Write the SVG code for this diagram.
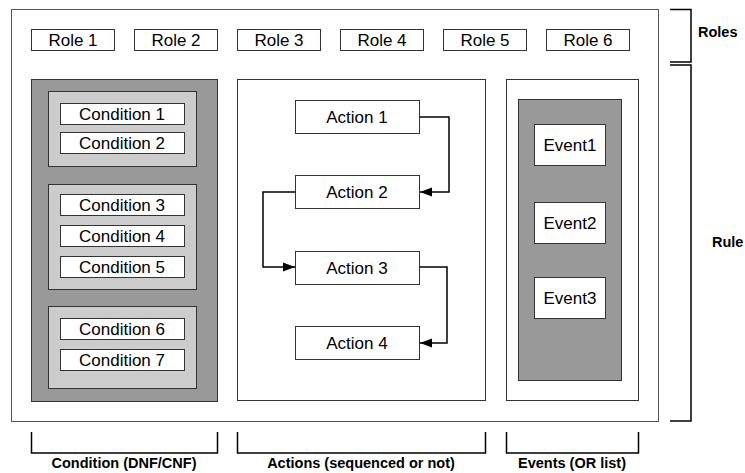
<svg xmlns="http://www.w3.org/2000/svg" width="745" height="473" viewBox="0 0 745 473">
<defs>
<style>
.box{fill:#fff;stroke:#333;stroke-width:1}
.dark{fill:#999;stroke:#333;stroke-width:1}
.light{fill:#ccc;stroke:#333;stroke-width:1}
.outer{fill:#fff;stroke:#555;stroke-width:1}
.t{font-family:"Liberation Sans",Arial,sans-serif;font-size:17px;fill:#000;text-anchor:middle}
.b{font-family:"Liberation Sans",Arial,sans-serif;font-size:14.5px;font-weight:bold;fill:#000;text-anchor:middle}
.s{text-anchor:start}
.br{fill:none;stroke:#000;stroke-width:1.5}
.conn{fill:none;stroke:#000;stroke-width:1.5}
</style>
<marker id="arr" viewBox="0 0 12 10" refX="12" refY="5" markerWidth="12" markerHeight="10" markerUnits="userSpaceOnUse" orient="auto">
<path d="M0,0.5 L12,5 L0,9.5 z" fill="#000"/>
</marker>
</defs>
<g id="rule-box"><rect class="outer" x="11.5" y="9.5" width="647" height="412"/></g>
<g id="role1"><rect class="box" x="31.5" y="29.5" width="83" height="21"/><text class="t" x="73" y="46">Role 1</text></g>
<g id="role2"><rect class="box" x="134.5" y="29.5" width="83" height="21"/><text class="t" x="176" y="46">Role 2</text></g>
<g id="role3"><rect class="box" x="237.5" y="29.5" width="83" height="21"/><text class="t" x="279" y="46">Role 3</text></g>
<g id="role4"><rect class="box" x="340.5" y="29.5" width="83" height="21"/><text class="t" x="382" y="46">Role 4</text></g>
<g id="role5"><rect class="box" x="443.5" y="29.5" width="83" height="21"/><text class="t" x="485" y="46">Role 5</text></g>
<g id="role6"><rect class="box" x="546.5" y="29.5" width="83" height="21"/><text class="t" x="588" y="46">Role 6</text></g>
<g id="conditions">
<rect class="dark" x="31.5" y="79.5" width="186" height="322"/>
<rect class="light" x="48.5" y="91.5" width="148" height="75"/>
<rect class="light" x="48.5" y="184.5" width="148" height="105"/>
<rect class="light" x="48.5" y="306.5" width="148" height="82"/>
</g>
<g id="cond1"><rect class="box" x="60.5" y="103.5" width="124" height="21"/><text class="t" x="122" y="120">Condition 1</text></g>
<g id="cond2"><rect class="box" x="60.5" y="132.5" width="124" height="21"/><text class="t" x="122" y="149">Condition 2</text></g>
<g id="cond3"><rect class="box" x="60.5" y="194.5" width="124" height="21"/><text class="t" x="122" y="211">Condition 3</text></g>
<g id="cond4"><rect class="box" x="60.5" y="225.5" width="124" height="21"/><text class="t" x="122" y="242">Condition 4</text></g>
<g id="cond5"><rect class="box" x="60.5" y="256.5" width="124" height="21"/><text class="t" x="122" y="273">Condition 5</text></g>
<g id="cond6"><rect class="box" x="60.5" y="318.5" width="124" height="21"/><text class="t" x="122" y="335">Condition 6</text></g>
<g id="cond7"><rect class="box" x="60.5" y="349.5" width="124" height="21"/><text class="t" x="122" y="366">Condition 7</text></g>
<g id="actions"><rect class="box" x="237.5" y="79.5" width="248" height="321"/></g>
<g id="action1"><rect class="box" x="295.5" y="100.5" width="124" height="33"/><text class="t" x="357" y="123">Action 1</text></g>
<g id="action2"><rect class="box" x="295.5" y="175.5" width="124" height="33"/><text class="t" x="357" y="198">Action 2</text></g>
<g id="action3"><rect class="box" x="295.5" y="251.5" width="124" height="33"/><text class="t" x="357" y="274">Action 3</text></g>
<g id="action4"><rect class="box" x="295.5" y="326.5" width="124" height="33"/><text class="t" x="357" y="349">Action 4</text></g>
<g id="events">
<rect class="box" x="506.5" y="79.5" width="132" height="321"/>
<rect class="dark" x="518.5" y="99.5" width="103" height="281"/>
</g>
<g id="event1"><rect class="box" x="534.5" y="124.5" width="71" height="41"/><text class="t" x="570" y="151">Event1</text></g>
<g id="event2"><rect class="box" x="534.5" y="202.5" width="71" height="41"/><text class="t" x="570" y="229">Event2</text></g>
<g id="event3"><rect class="box" x="534.5" y="277.5" width="71" height="41"/><text class="t" x="570" y="304">Event3</text></g>
<g id="connectors">
<path class="conn" d="M419.5,117 H449 V192 H420" marker-end="url(#arr)"/>
<path class="conn" d="M295.5,192 H263 V267 H295" marker-end="url(#arr)"/>
<path class="conn" d="M419.5,267 H447 V343 H420" marker-end="url(#arr)"/>
</g>
<g id="brackets">
<path class="br" d="M670,9.5 H691 V62 H670"/>
<path class="br" d="M670,65 H691 V421 H670"/>
<path class="br" d="M31.5,432 V453 H217.5 V432"/>
<path class="br" d="M237.5,432 V453 H485.5 V432"/>
<path class="br" d="M506.5,432 V453 H638.5 V432"/>
</g>
<g id="labels">
<text class="b" x="124" y="468">Condition (DNF/CNF)</text>
<text class="b" x="361" y="468">Actions (sequenced or not)</text>
<text class="b" x="572" y="468">Events (OR list)</text>
<text class="b s" x="698" y="37">Roles</text>
<text class="b s" x="712" y="247">Rule</text>
</g>
</svg>
